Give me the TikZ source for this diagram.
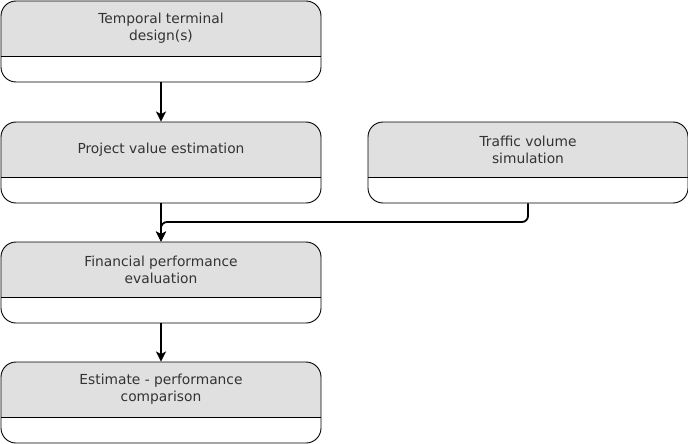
\documentclass[tikz,border=0pt]{standalone}
\usepackage{fontspec}
\setmainfont{DejaVu Sans}
\usepackage{tikz}
\usetikzlibrary{calc,arrows.meta}
\definecolor{hdgray}{RGB}{224,224,224}
\definecolor{txtgray}{RGB}{51,51,51}

\tikzset{
	stage/.style={draw, line width=0.9pt, rounded corners=15pt, fill=white,
		minimum width=320pt, minimum height=81pt, inner sep=0pt,
		path picture={
			\fill[hdgray, sharp corners] (path picture bounding box.north west) rectangle ([yshift=-55pt]path picture bounding box.north east);
			\draw[line width=0.9pt, sharp corners] ([yshift=-55pt]path picture bounding box.north west) -- ([yshift=-55pt]path picture bounding box.north east);
		}},
	stagetext/.style={align=center, text=txtgray, font=\fontsize{13.8}{17}\selectfont},
	link/.style={line width=1.8pt, -{Stealth[length=10pt, width=10pt, inset=2.5pt]}}
}

\begin{document}
\begin{tikzpicture}[x=1pt,y=1pt]
	\useasboundingbox (0,0) rectangle (688,-444);
	
	\node[stage] (ttd) at (161,-41.5) {};
	\node[stage] (pve) at (161,-162.5) {};
	\node[stage] (tvs) at (528,-162.5) {};
	\node[stage] (fpe) at (161,-282.5) {};
	\node[stage] (epc) at (161,-402.5) {};
	
	\node[stagetext] (ttd-t) at ([yshift=-28pt]ttd.north) {Temporal terminal\\design(s)};
	\node[stagetext] (pve-t) at ([yshift=-28pt]pve.north) {Project value estimation};
	\node[stagetext] (tvs-t) at ([yshift=-28pt]tvs.north) {Traffic volume\\simulation};
	\node[stagetext] (fpe-t) at ([yshift=-28pt]fpe.north) {Financial performance\\evaluation};
	\node[stagetext] (epc-t) at ([yshift=-28pt]epc.north) {Estimate - performance\\comparison};
	
	\coordinate (jn) at (161,-222);
	
	\draw[link] (ttd.south) -- (pve.north);
	\draw[link] (pve.south) -- (fpe.north);
	\draw[link, rounded corners=6pt] (tvs.south) |- (jn) -- (fpe.north);
	\draw[link] (fpe.south) -- (epc.north);
\end{tikzpicture}
\end{document}
